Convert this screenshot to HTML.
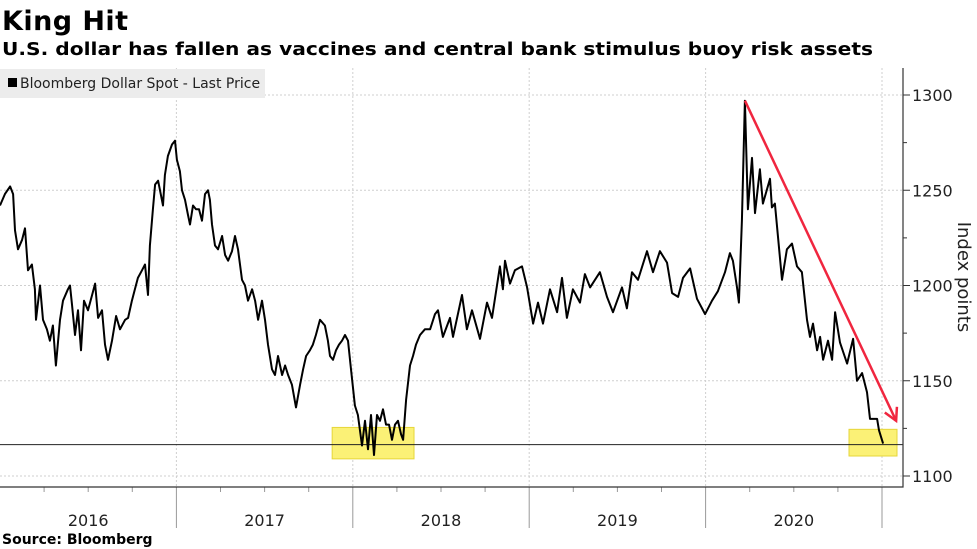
<!DOCTYPE html>
<html><head><meta charset="utf-8"><style>
html,body{margin:0;padding:0;background:#fff;}
svg{display:block;font-family:"DejaVu Sans","Liberation Sans",sans-serif;}
</style></head><body>
<svg id="chart" width="977" height="549" viewBox="0 0 977 549">
  <text x="2" y="30" font-size="27" font-weight="bold" fill="#000" textLength="126">King Hit</text>
  <text x="2" y="55" font-size="18" font-weight="bold" fill="#000" textLength="871" lengthAdjust="spacingAndGlyphs">U.S. dollar has fallen as vaccines and central bank stimulus buoy risk assets</text>
  <g id="grid"></g>
  <g id="marks"></g>
  <g id="axes"></g>
  <rect x="0" y="69" width="265" height="29" fill="#ececec"/>
  <rect x="8" y="78" width="9" height="9" fill="#000"/>
  <text x="20" y="88" font-size="14" fill="#222">Bloomberg Dollar Spot - Last Price</text>
  <text x="0" y="0" font-size="18" fill="#222" transform="translate(958,277) rotate(90)" text-anchor="middle">Index points</text>
  <text x="2" y="544" font-size="14" font-weight="bold" fill="#000">Source: Bloomberg</text>
</svg>
<script>
const yearFrac = [0,.028,.057,.074,.085,.102,.125,.142,.159,.181,.198,.204,.227,.244,.266,.283,.300,.317,.340,.357,.385,.397,.408,.425,.442,.459,.476,.499,.522,.539,.556,.578,.595,.612,.635,.658,.680,.709,.726,.748,.765,.782,.805,.822,.839,.850,.867,.879,.896,.907,.924,.935,.952,.975,.992,1.003,1.020,1.032,1.049,1.066,1.077,1.094,1.111,1.128,1.145,1.162,1.179,1.190,1.202,1.219,1.236,1.259,1.276,1.293,1.315,1.332,1.349,1.372,1.389,1.406,1.429,1.446,1.463,1.485,1.502,1.519,1.542,1.559,1.576,1.599,1.616,1.633,1.655,1.678,1.701,1.718,1.735,1.757,1.774,1.791,1.814,1.842,1.859,1.871,1.888,1.905,1.922,1.939,1.956,1.973,1.990,2.012,2.029,2.052,2.069,2.086,2.103,2.120,2.137,2.154,2.171,2.188,2.205,2.222,2.239,2.256,2.273,2.285,2.302,2.324,2.341,2.358,2.381,2.409,2.438,2.466,2.483,2.511,2.551,2.568,2.619,2.647,2.676,2.721,2.761,2.789,2.834,2.851,2.863,2.891,2.919,2.959,2.988,3.022,3.050,3.078,3.118,3.158,3.186,3.214,3.248,3.288,3.316,3.345,3.401,3.441,3.475,3.526,3.554,3.583,3.617,3.668,3.702,3.741,3.781,3.810,3.844,3.872,3.912,3.951,3.997,4.036,4.070,4.110,4.138,4.155,4.178,4.189,4.206,4.223,4.240,4.263,4.280,4.308,4.325,4.365,4.376,4.393,4.433,4.461,4.490,4.518,4.546,4.575,4.592,4.609,4.632,4.649,4.666,4.694,4.717,4.734,4.762,4.802,4.836,4.858,4.887,4.915,4.932,4.972,4.983,5.006];
const prices = [1242,1248,1252,1248,1229,1219,1224,1230,1208,1211,1198,1182,1200,1182,1177,1171,1179,1158,1182,1192,1198,1200,1190,1174,1187,1166,1192,1187,1195,1201,1183,1187,1169,1161,1171,1184,1177,1182,1183,1192,1198,1204,1208,1211,1195,1221,1240,1253,1255,1250,1242,1258,1268,1274,1276,1266,1260,1250,1245,1237,1232,1242,1240,1240,1234,1248,1250,1245,1232,1221,1219,1226,1216,1213,1218,1226,1219,1203,1200,1192,1198,1192,1182,1192,1182,1169,1156,1153,1163,1153,1158,1153,1148,1136,1148,1156,1163,1166,1169,1174,1182,1179,1171,1163,1161,1166,1169,1171,1174,1171,1156,1137,1132,1116,1129,1114,1132,1111,1132,1129,1135,1127,1127,1119,1127,1129,1122,1119,1140,1158,1163,1169,1174,1177,1177,1185,1187,1173,1183,1173,1195,1177,1187,1172,1191,1183,1210,1198,1213,1201,1208,1210,1199,1180,1191,1180,1198,1186,1204,1183,1198,1191,1206,1199,1207,1194,1186,1199,1188,1207,1203,1218,1207,1218,1212,1196,1194,1204,1209,1193,1185,1192,1197,1207,1217,1213,1199,1191,1234,1297,1240,1267,1238,1261,1243,1256,1241,1243,1203,1219,1222,1210,1207,1182,1173,1180,1166,1173,1161,1171,1161,1186,1170,1159,1172,1150,1154,1144,1130,1130,1124,1117];
const yTicks = [1100,1150,1200,1250,1300];
const yMinor = [1125,1175,1225,1275];
const yearLabels = ["2016","2017","2018","2019","2020"];
const supportLevel = [1116.5];
const lowZones = [[1.883,2.347,1109,1125.5],[4.813,5.085,1110.5,1124.5]];
const trendArrow = [[4.223,1297],[5.08,1129]];

const NS="http://www.w3.org/2000/svg";
const X0=0, PX_PER_YEAR=176.4, PLOT_R=903, PLOT_T=68, PLOT_B=487;
function xs(t){return X0+t*PX_PER_YEAR;}
function ys(v){return 95+(1300-v)*1.905;}
function mk(tag,attrs,parent){const e=document.createElementNS(NS,tag);for(const k in attrs)e.setAttribute(k,attrs[k]);parent.appendChild(e);return e;}
const grid=document.getElementById('grid'), marks=document.getElementById('marks'), axes=document.getElementById('axes');

yTicks.forEach(v=>{
  const l=mk('line',{x1:0,x2:PLOT_R,y1:ys(v),y2:ys(v),stroke:'#cfcfcf','stroke-dasharray':'2,2','stroke-width':1},grid);
  
  
  const tk=mk('line',{x1:PLOT_R,x2:PLOT_R+7,y1:ys(v),y2:ys(v),stroke:'#333'},axes);
  
  
  const tx=mk('text',{x:PLOT_R+9,y:ys(v)+6,'font-size':16,fill:'#222'},axes);
  tx.textContent=v;
  
  
});
yMinor.forEach(v=>{
  const tk=mk('line',{x1:PLOT_R,x2:PLOT_R+4,y1:ys(v),y2:ys(v),stroke:'#333'},axes);
  
  
});
for(let i=1;i<=5;i++){
  const l=mk('line',{x1:xs(i),x2:xs(i),y1:PLOT_T,y2:PLOT_B,stroke:'#cfcfcf','stroke-dasharray':'2,2'},grid);
  
  
  const d=mk('line',{x1:xs(i),x2:xs(i),y1:PLOT_B,y2:528,stroke:'#999'},axes);
  
  
}
for(let q=0;q<20;q++){
  if(q%4===0) continue;
  const t=mk('line',{x1:xs(q/4),x2:xs(q/4),y1:PLOT_B,y2:PLOT_B+5,stroke:'#999'},axes);
  
  
}
yearLabels.forEach((y,i)=>{
  const tx=mk('text',{x:xs(i+0.5),y:526,'font-size':16,fill:'#222','text-anchor':'middle'},axes);
  tx.textContent=y;
  
  
});
const ax=mk('path',{d:`M0 ${PLOT_B} H${PLOT_R} V${PLOT_T}`,fill:'none',stroke:'#333','stroke-width':1.2},axes);



lowZones.forEach(z=>{
  const r=mk('rect',{x:xs(z[0]),y:ys(z[3]),width:xs(z[1])-xs(z[0]),height:ys(z[2])-ys(z[3]),fill:'#fbf176',stroke:'#e6d63a','stroke-width':1},marks);
  
  
});
supportLevel.forEach(v=>{
  const l=mk('line',{x1:0,x2:PLOT_R,y1:ys(v),y2:ys(v),stroke:'#222','stroke-width':1},marks);
  
  
});
let d='';
yearFrac.forEach((t,i)=>{d+=(i?'L':'M')+xs(t).toFixed(1)+' '+ys(prices[i]).toFixed(1);});
const line=mk('path',{d:d,fill:'none',stroke:'#000','stroke-width':2,'stroke-linejoin':'round'},marks);



const ax1=xs(trendArrow[0][0]),ay1=ys(trendArrow[0][1]),ax2=xs(trendArrow[1][0]),ay2=ys(trendArrow[1][1]);
const arr=mk('line',{x1:ax1,y1:ay1,x2:ax2,y2:ay2,stroke:'#f0263f','stroke-width':2.5},marks);


const ang=Math.atan2(ay2-ay1,ax2-ax1);
const h1=[ax2-14*Math.cos(ang-0.5),ay2-14*Math.sin(ang-0.5)],h2=[ax2-14*Math.cos(ang+0.5),ay2-14*Math.sin(ang+0.5)];
const head=mk('polyline',{points:`${h1} ${ax2},${ay2} ${h2}`,fill:'none',stroke:'#f0263f','stroke-width':2.5},marks);


</script>
</body></html>
